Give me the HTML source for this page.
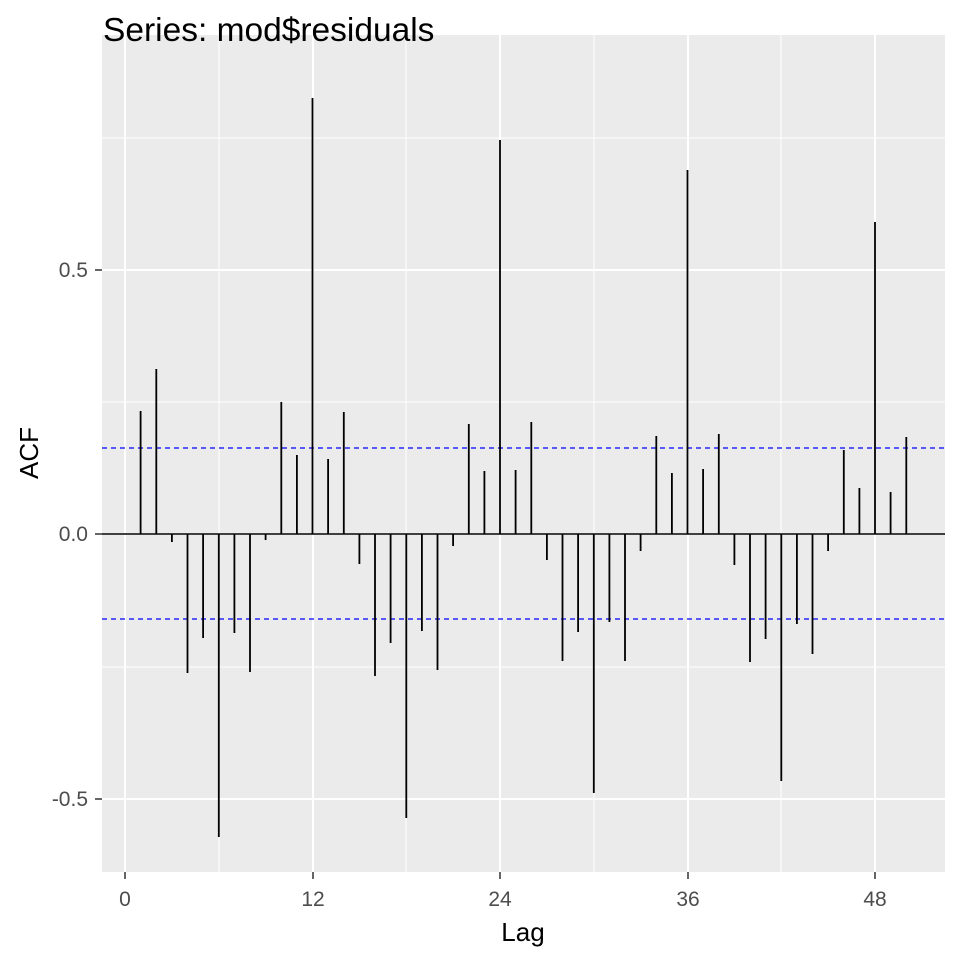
<!DOCTYPE html>
<html><head><style>body{margin:0;background:#fff}</style></head><body>
<svg width="960" height="960" xmlns="http://www.w3.org/2000/svg" font-family="Liberation Sans, sans-serif">
<rect width="960" height="960" fill="#fff"/>
<rect x="102" y="35" width="843" height="837" fill="#EBEBEB"/>
<g stroke="#fff" stroke-width="1">
<line x1="102" x2="945" y1="138" y2="138"/><line x1="102" x2="945" y1="402" y2="402"/><line x1="102" x2="945" y1="667" y2="667"/>
<line x1="219" x2="219" y1="35" y2="872"/><line x1="406" x2="406" y1="35" y2="872"/><line x1="594" x2="594" y1="35" y2="872"/><line x1="781" x2="781" y1="35" y2="872"/>
</g>
<g stroke="#fff" stroke-width="2">
<line x1="102" x2="945" y1="270" y2="270"/><line x1="102" x2="945" y1="534" y2="534"/><line x1="102" x2="945" y1="799" y2="799"/>
<line x1="125" x2="125" y1="35" y2="872"/><line x1="313" x2="313" y1="35" y2="872"/><line x1="500" x2="500" y1="35" y2="872"/><line x1="688" x2="688" y1="35" y2="872"/><line x1="875" x2="875" y1="35" y2="872"/>
</g>
<line x1="102" x2="945" y1="448" y2="448" stroke="#0000FF" stroke-width="1.3" stroke-dasharray="5,4"/>
<line x1="102" x2="945" y1="619" y2="619" stroke="#0000FF" stroke-width="1.3" stroke-dasharray="5,4"/>
<line x1="102" x2="945" y1="534" y2="534" stroke="#000" stroke-width="1.5"/>
<path stroke="#000" stroke-width="1.8" fill="none" d="
M140.6 534V411 M156.3 534V369 M171.9 534V542 M187.5 534V673 M203.1 534V638 M218.8 534V837 M234.4 534V633 M250 534V672 M265.6 534V540 M281.3 534V402
M296.9 534V455 M312.5 534V98 M328.1 534V459 M343.8 534V412 M359.4 534V564 M375 534V676 M390.6 534V643 M406.3 534V818 M421.9 534V631 M437.5 534V670
M453.1 534V546 M468.8 534V424 M484.4 534V471 M500 534V140 M515.6 534V470 M531.3 534V422 M546.9 534V560 M562.5 534V661 M578.1 534V632 M593.8 534V793
M609.4 534V622 M625 534V661 M640.6 534V551 M656.3 534V436 M671.9 534V473 M687.5 534V170 M703.1 534V469 M718.8 534V434 M734.4 534V565 M750 534V662
M765.6 534V639 M781.3 534V781 M796.9 534V624 M812.5 534V654 M828.1 534V551 M843.8 534V450 M859.4 534V488 M875 534V222 M890.6 534V492 M906.3 534V437"/>
<g font-size="21" fill="#4D4D4D" text-anchor="end">
<text x="88" y="277">0.5</text><text x="88" y="541">0.0</text><text x="88" y="806">-0.5</text>
</g>
<g stroke="#333" stroke-width="1.5">
<line x1="95" x2="102" y1="270" y2="270"/><line x1="95" x2="102" y1="534" y2="534"/><line x1="95" x2="102" y1="799" y2="799"/>
<line x1="125" x2="125" y1="872" y2="879"/><line x1="313" x2="313" y1="872" y2="879"/><line x1="500" x2="500" y1="872" y2="879"/><line x1="688" x2="688" y1="872" y2="879"/><line x1="875" x2="875" y1="872" y2="879"/>
</g>
<g font-size="21" fill="#4D4D4D" text-anchor="middle">
<text x="125" y="906">0</text><text x="313" y="906">12</text><text x="500" y="906">24</text><text x="688" y="906">36</text><text x="875" y="906">48</text>
</g>
<text x="523" y="941" font-size="26" text-anchor="middle">Lag</text>
<text transform="translate(38,453) rotate(-90)" font-size="26" text-anchor="middle">ACF</text>
<text x="103" y="41" font-size="33.5">Series: mod$residuals</text>
</svg>
</body></html>
